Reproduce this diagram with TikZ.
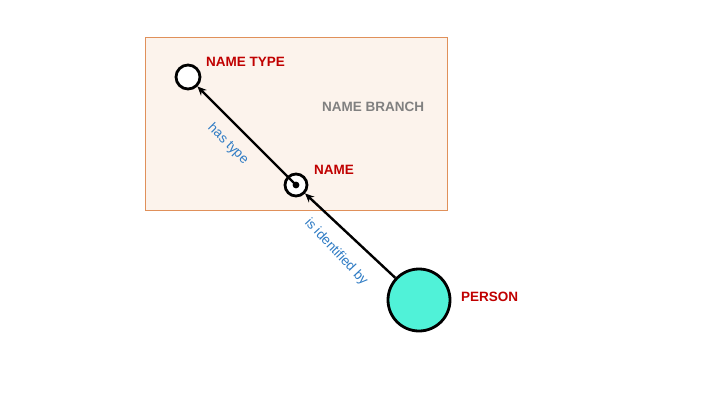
\documentclass[tikz,border=0pt]{standalone}
\usepackage{fontspec}
\setmainfont{Liberation Sans}
\usetikzlibrary{arrows.meta}
\definecolor{boxfill}{HTML}{FCF3EC}
\definecolor{boxdraw}{HTML}{E0905A}
\definecolor{redlbl}{HTML}{C00000}
\definecolor{graylbl}{HTML}{808080}
\definecolor{bluelbl}{HTML}{2E7BC4}
\definecolor{turq}{HTML}{50F2D8}
\tikzset{
  ent/.style={circle, draw=black, line width=2.8pt, inner sep=0pt},
  rname/.style={text=redlbl, font=\fontsize{13.5}{15}\selectfont\bfseries, inner sep=0pt, anchor=west},
  edgelbl/.style={text=bluelbl, font=\fontsize{13.5}{15}\selectfont, inner sep=0pt},
  arr/.style={draw=black, line width=2.4pt, -{Stealth[length=9pt,width=8pt]}}
}
\begin{document}
\begin{tikzpicture}[x=1pt,y=-1pt]
\useasboundingbox[fill=white] (0,0) rectangle (720,405);
\node[draw=boxdraw, fill=boxfill, line width=0.9pt, minimum width=302pt, minimum height=173pt, inner sep=0pt, anchor=north west] (branch) at (145,37) {};
\node[text=graylbl, font=\fontsize{13.5}{15}\selectfont\bfseries, inner sep=0pt, anchor=west] (branchlbl) at (322,107) {NAME BRANCH};
\node[ent, fill=white, minimum size=24pt] (ntype) at (188,77) {};
\node[ent, fill=white, minimum size=22pt] (name) at (296,185) {};
\fill[black] (name.center) circle (3.4);
\node[ent, fill=turq, minimum size=62pt] (person) at (419,300) {};
\node[rname] (ntypelbl) at (206,62) {NAME TYPE};
\node[rname] (namelbl) at (314,170) {NAME};
\node[rname] (personlbl) at (461,297) {PERSON};
\draw[arr] (person) -- (name);
\draw[arr] (name.center) -- (ntype);
\node[edgelbl, rotate=-45] (hastype) at (228,144) {has type};
\node[edgelbl, rotate=-47] (isid) at (336,252) {is identified by};
\end{tikzpicture}
\end{document}
